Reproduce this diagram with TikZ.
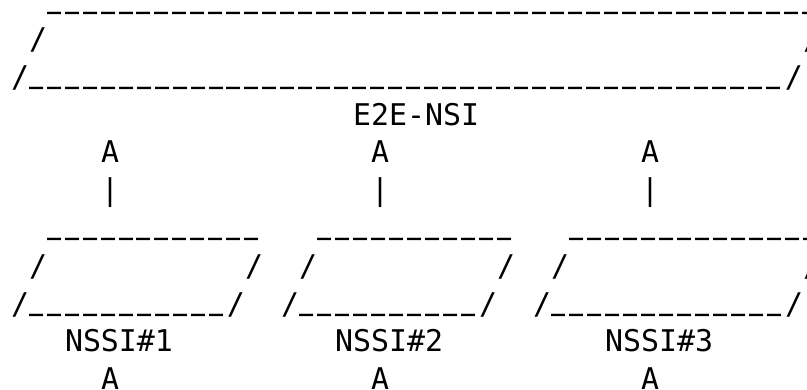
\documentclass[tikz,border=0pt]{standalone}
\usepackage{fontspec}
\newfontfamily\asciifont{DejaVu Sans Mono}
\newcount\uscnt
\newcommand\ubar{\makebox[18pt][l]{\smash{\raisebox{11.6pt}{\scalebox{0.78}[2]{\_}}}}}
\newcommand\unds[1]{\uscnt=#1\relax\loop\ifnum\uscnt>0 \ubar\advance\uscnt-1 \repeat}
\begin{document}
\begin{tikzpicture}[x=1pt,y=-1pt,
  txt/.style={anchor=base west,inner sep=0pt,outer sep=0pt,font=\asciifont\fontsize{29.9}{36}\selectfont}]
\fill[white] (0,0) rectangle (807,389);
\useasboundingbox (0,0) rectangle (807,389);
\def\cw{18}
\def\xo{11}
\def\bz{11.6}
\def\lp{37.8}
% row 0
\node[txt] (r0) at ({\xo+2*\cw},{\bz+0*\lp}) {\unds{43}};
% row 1
\node[txt] (r1a) at ({\xo+1*\cw},{\bz+1*\lp}) {/};
\node[txt] (r1b) at ({\xo+44*\cw},{\bz+1*\lp}) {/};
% row 2
\node[txt] (r2) at ({\xo+0*\cw},{\bz+2*\lp}) {/\unds{42}/};
% row 3
\node[txt] (e2e) at ({\xo+19*\cw},{\bz+3*\lp}) {E2E-NSI};
% row 4
\node[txt] (a1) at ({\xo+5*\cw},{\bz+4*\lp}) {A};
\node[txt] (a2) at ({\xo+20*\cw},{\bz+4*\lp}) {A};
\node[txt] (a3) at ({\xo+35*\cw},{\bz+4*\lp}) {A};
% row 5
\node[txt] (p1) at ({\xo+5*\cw},{\bz+5*\lp}) {|};
\node[txt] (p2) at ({\xo+20*\cw},{\bz+5*\lp}) {|};
\node[txt] (p3) at ({\xo+35*\cw},{\bz+5*\lp}) {|};
% row 6
\node[txt] (t1) at ({\xo+2*\cw},{\bz+6*\lp}) {\unds{12}};
\node[txt] (t2) at ({\xo+17*\cw},{\bz+6*\lp}) {\unds{11}};
\node[txt] (t3) at ({\xo+31*\cw},{\bz+6*\lp}) {\unds{14}};
% row 7
\node[txt] (s1a) at ({\xo+1*\cw},{\bz+7*\lp}) {/};
\node[txt] (s1b) at ({\xo+13*\cw},{\bz+7*\lp}) {/};
\node[txt] (s2a) at ({\xo+16*\cw},{\bz+7*\lp}) {/};
\node[txt] (s2b) at ({\xo+27*\cw},{\bz+7*\lp}) {/};
\node[txt] (s3a) at ({\xo+30*\cw},{\bz+7*\lp}) {/};
\node[txt] (s3b) at ({\xo+44*\cw},{\bz+7*\lp}) {/};
% row 8
\node[txt] (b1) at ({\xo+0*\cw},{\bz+8*\lp}) {/\unds{11}/};
\node[txt] (b2) at ({\xo+15*\cw},{\bz+8*\lp}) {/\unds{10}/};
\node[txt] (b3) at ({\xo+29*\cw},{\bz+8*\lp}) {/\unds{13}/};
% row 9
\node[txt] (n1) at ({\xo+3*\cw},{\bz+9*\lp}) {NSSI\#1};
\node[txt] (n2) at ({\xo+18*\cw},{\bz+9*\lp}) {NSSI\#2};
\node[txt] (n3) at ({\xo+33*\cw},{\bz+9*\lp}) {NSSI\#3};
% row 10
\node[txt] (c1) at ({\xo+5*\cw},{\bz+10*\lp}) {A};
\node[txt] (c2) at ({\xo+20*\cw},{\bz+10*\lp}) {A};
\node[txt] (c3) at ({\xo+35*\cw},{\bz+10*\lp}) {A};
\end{tikzpicture}
\end{document}
